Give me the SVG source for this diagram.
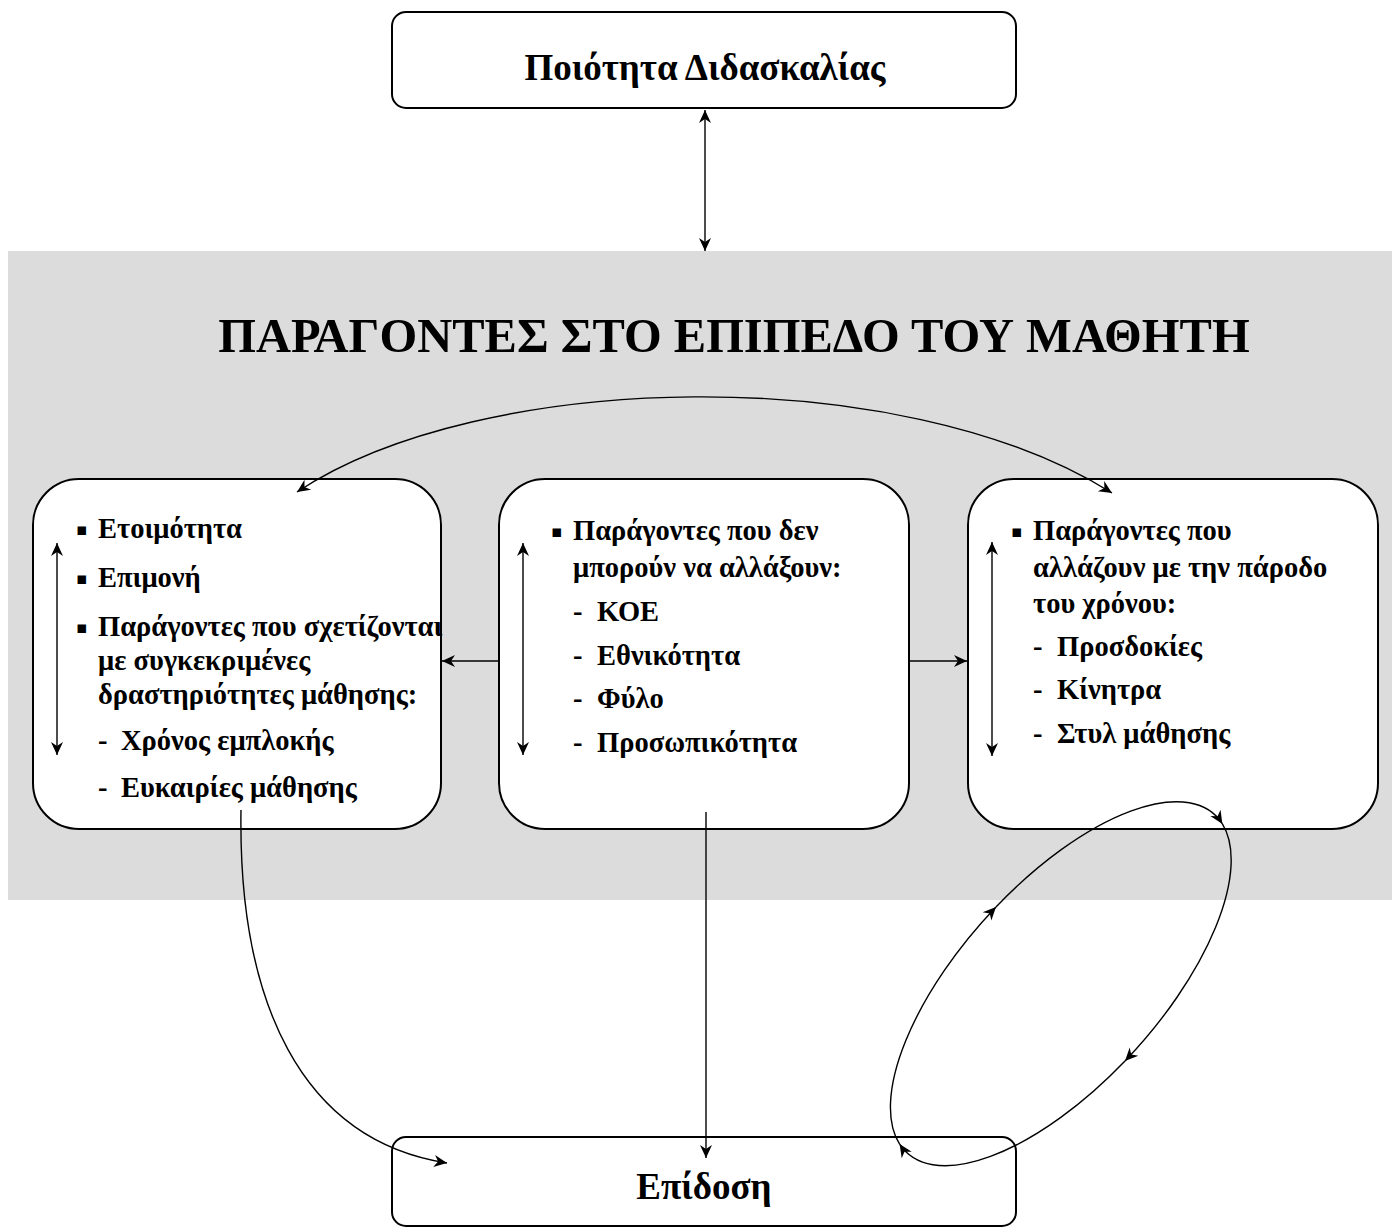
<svg xmlns="http://www.w3.org/2000/svg" width="1392" height="1229" viewBox="0 0 1392 1229">
<defs>
<marker id="ah" markerUnits="userSpaceOnUse" markerWidth="16" markerHeight="14" viewBox="-14 -7 16 14" refX="0" refY="0" orient="auto">
<path d="M0,0 L-13,-6 L-9,0 L-13,6 Z" fill="#000"/>
</marker>
<marker id="ahs" markerUnits="userSpaceOnUse" markerWidth="16" markerHeight="14" viewBox="-14 -7 16 14" refX="0" refY="0" orient="auto-start-reverse">
<path d="M0,0 L-13,-6 L-9,0 L-13,6 Z" fill="#000"/>
</marker>
</defs>
<style>
.box{fill:#fff;stroke:#000;stroke-width:2}
.t{font-family:"Liberation Serif","Times New Roman",serif;font-weight:bold;fill:#000}
.b{font-size:28.5px}
.bul{font-family:"DejaVu Sans",sans-serif;font-size:17px;fill:#000}
.c{fill:none;stroke:#000;stroke-width:1.4}
</style>
<rect x="0" y="0" width="1392" height="1229" fill="#fff"/>
<rect id="band" x="8" y="251" width="1384" height="649" fill="#dcdcdc"/>
<text class="t" x="734" y="352" font-size="48.5" text-anchor="middle">ΠΑΡΑΓΟΝΤΕΣ ΣΤΟ ΕΠΙΠΕΔΟ ΤΟΥ ΜΑΘΗΤΗ</text>

<g id="node-quality">
<rect class="box" x="392" y="12" width="624" height="96" rx="14"/>
<text class="t" x="705" y="80" font-size="37" text-anchor="middle">Ποιότητα Διδασκαλίας</text>
</g>

<g id="node-left">
<rect class="box" x="33" y="479" width="408" height="350" rx="46"/>
<text class="bul" x="76" y="535">▪</text>
<text class="t b" x="98" y="538">Ετοιμότητα</text>
<text class="bul" x="76" y="584">▪</text>
<text class="t b" x="98" y="587">Επιμονή</text>
<text class="bul" x="76" y="633">▪</text>
<text class="t b" x="98" y="636">Παράγοντες που σχετίζονται</text>
<text class="t b" x="98" y="670">με συγκεκριμένες</text>
<text class="t b" x="98" y="704">δραστηριότητες μάθησης:</text>
<text class="t b" y="750"><tspan x="98">-</tspan><tspan x="121">Χρόνος εμπλοκής</tspan></text>
<text class="t b" y="797"><tspan x="98">-</tspan><tspan x="121">Ευκαιρίες μάθησης</tspan></text>
</g>

<g id="node-middle">
<rect class="box" x="499" y="479" width="410" height="350" rx="46"/>
<text class="bul" x="551" y="537">▪</text>
<text class="t b" x="573" y="540">Παράγοντες που δεν</text>
<text class="t b" x="573" y="577">μπορούν να αλλάξουν:</text>
<text class="t b" y="621"><tspan x="573">-</tspan><tspan x="597">ΚΟΕ</tspan></text>
<text class="t b" y="665"><tspan x="573">-</tspan><tspan x="597">Εθνικότητα</tspan></text>
<text class="t b" y="708"><tspan x="573">-</tspan><tspan x="597">Φύλο</tspan></text>
<text class="t b" y="752"><tspan x="573">-</tspan><tspan x="597">Προσωπικότητα</tspan></text>
</g>

<g id="node-right">
<rect class="box" x="968" y="479" width="410" height="350" rx="46"/>
<text class="bul" x="1011" y="537">▪</text>
<text class="t b" x="1033" y="540">Παράγοντες που</text>
<text class="t b" x="1033" y="577">αλλάζουν με την πάροδο</text>
<text class="t b" x="1033" y="613">του χρόνου:</text>
<text class="t b" y="656"><tspan x="1033">-</tspan><tspan x="1057">Προσδοκίες</tspan></text>
<text class="t b" y="699"><tspan x="1033">-</tspan><tspan x="1057">Κίνητρα</tspan></text>
<text class="t b" y="743"><tspan x="1033">-</tspan><tspan x="1057">Στυλ μάθησης</tspan></text>
</g>

<g id="node-performance">
<rect class="box" x="392" y="1137" width="624" height="89" rx="14"/>
<text class="t" x="704" y="1199" font-size="37" text-anchor="middle">Επίδοση</text>
</g>

<g id="connectors">
<line class="c" x1="705" y1="110" x2="705" y2="251" marker-start="url(#ahs)" marker-end="url(#ah)"/>
<path class="c" d="M297,492 C480,370 900,360 1112,493" marker-start="url(#ahs)" marker-end="url(#ah)"/>
<line class="c" x1="499" y1="661" x2="442" y2="661" marker-end="url(#ah)"/>
<line class="c" x1="909" y1="661" x2="967" y2="661" marker-end="url(#ah)"/>
<line class="c" x1="57" y1="543" x2="57" y2="755" marker-start="url(#ahs)" marker-end="url(#ah)"/>
<line class="c" x1="523" y1="543" x2="523" y2="755" marker-start="url(#ahs)" marker-end="url(#ah)"/>
<line class="c" x1="992" y1="542" x2="992" y2="756" marker-start="url(#ahs)" marker-end="url(#ah)"/>
<line class="c" x1="706" y1="812" x2="706" y2="1158" marker-end="url(#ah)"/>
<path class="c" d="M241,810 C238,1000 300,1140 447,1163" marker-end="url(#ah)"/>
<path class="c" d="M899.6,1144.1 A228.5,100 -47.8 0 1 996,907" marker-end="url(#ah)"/>
<path class="c" d="M996,907 A228.5,100 -47.8 0 1 1222.4,823.9" marker-end="url(#ah)"/>
<path class="c" d="M1222.4,823.9 A228.5,100 -47.8 0 1 1125,1061" marker-end="url(#ah)"/>
<path class="c" d="M1125,1061 A228.5,100 -47.8 0 1 899.6,1144.1" marker-end="url(#ah)"/>
</g>
</svg>
